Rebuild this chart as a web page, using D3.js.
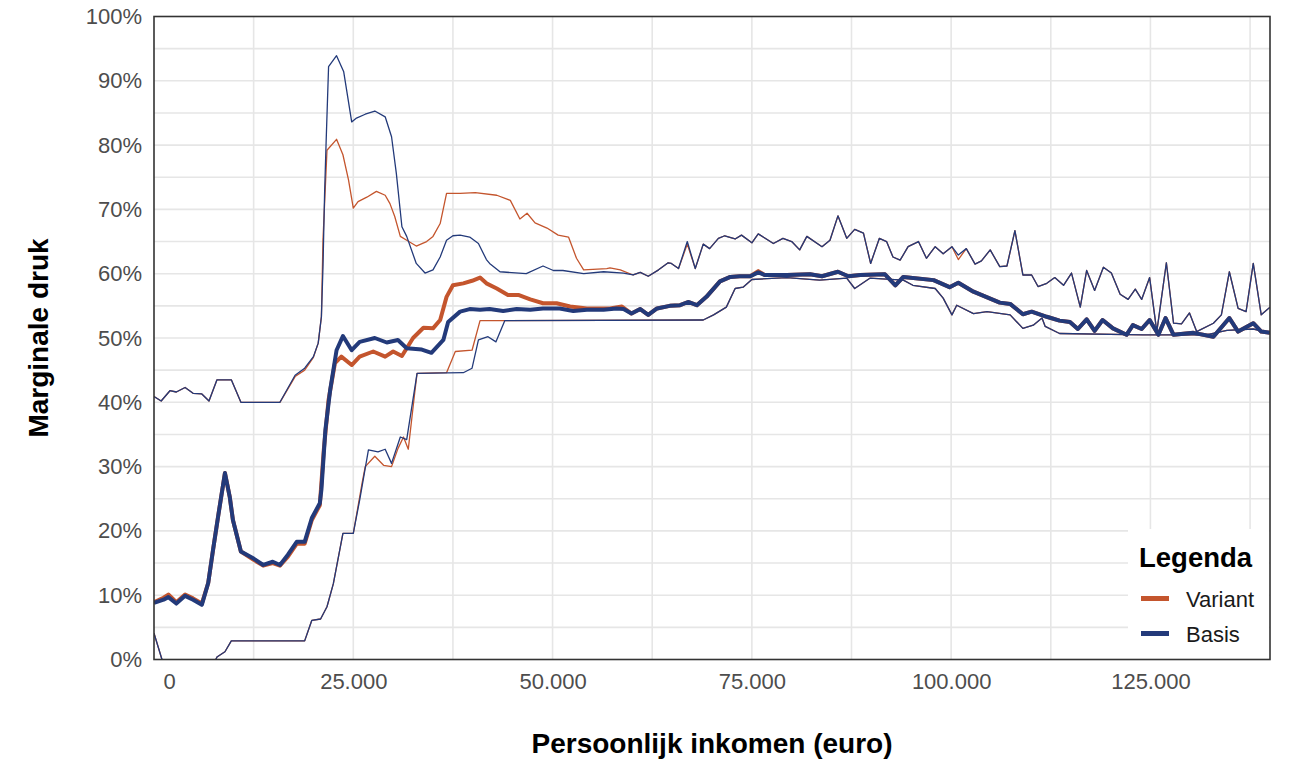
<!DOCTYPE html>
<html>
<head>
<meta charset="utf-8">
<script src="https://cdn.jsdelivr.net/npm/d3@7"></script>
<style>
  html, body { margin: 0; padding: 0; background: #ffffff; }
  svg { display: block; font-family: "Liberation Sans", Arial, sans-serif; }
</style>
</head>
<body>
<svg id="chart" width="1299" height="784"></svg>
<script>
// ---------- DATA (x in thousands of euro, y in %) ----------
const seriesNames = ["Variant", "Basis"];
const seriesColors = ["#C4552D", "#233A7A"];

const xTickValues = [1.9, 25, 50, 75, 100, 125];
const xTickLabels = ["0", "25.000", "50.000", "75.000", "100.000", "125.000"];
const yTickValues = [0, 10, 20, 30, 40, 50, 60, 70, 80, 90, 100];

// Basis, upper thin line
const basisUpper = [[0,40.9],[0.9,40.2],[2,41.8],[2.8,41.6],[3.9,42.3],[4.9,41.4],[6,41.3],[6.9,40.2],[7.9,43.5],[9.7,43.5],[10.9,40],[15.8,40],[17.7,44.2],[18.9,45.3],[20,47.1],[20.6,49.2],[21,53.3],[21.2,61.1],[21.4,72.5],[21.6,80.8],[21.9,92.2],[22.9,93.9],[23.8,91.4],[24.8,83.6],[25.4,84.2],[26.5,84.8],[27.7,85.3],[29,84.4],[29.8,81.3],[30.4,75.6],[31.1,67.3],[31.7,65.8],[32.9,61.6],[34,60.1],[35,60.6],[35.9,62.6],[36.7,65.2],[37.5,65.9],[38.4,66],[39.6,65.7],[40.7,64.7],[41.7,62.2],[42.1,61.6],[43.4,60.3],[46.7,60],[48.8,61.2],[50.1,60.5],[51.3,60.5],[53.9,60],[56.4,60.3],[58.9,60.1],[60.1,59.8],[61,60.2],[62,59.6],[63.3,60.6],[64.5,61.7],[64.9,61.6],[65.8,60.8],[66.9,65],[67.9,60.8],[68.9,64.6],[69.7,63.9],[70.8,65.5],[71.6,65.9],[72.9,65.4],[73.7,66],[75,64.8],[75.8,66.2],[77.7,64.7],[78.9,65.5],[80,65],[81,63.7],[81.9,65.8],[83.8,64.2],[84.8,65.2],[85.8,69],[86.9,65.5],[87.9,66.9],[89,66.3],[89.9,61.6],[91,65.5],[91.9,65],[92.7,62.6],[93.6,62.1],[94.6,64.2],[95.9,65],[96.9,62.4],[98,64.2],[99,63.1],[100.1,64.2],[100.9,62.9],[101.9,63.9],[103,61.5],[103.8,62],[104.9,63.7],[106.1,61.1],[107,61.2],[108,66.7],[109,59.8],[110.1,59.8],[110.9,58],[112,58.5],[113,59.4],[114.1,58.2],[115.1,60.1],[116.2,54.8],[117,60.5],[118,57.4],[119.1,61],[120.1,60.1],[121.2,56.8],[122.2,56],[123.1,57.6],[123.9,56],[124.9,59.4],[125.8,51],[127,61.7],[127.9,52.3],[128.9,52.2],[129.9,53.9],[130.8,51],[132.9,52.3],[133.9,53.6],[134.9,60.3],[136,54.6],[137,54.1],[137.9,61.6],[138.9,53.6],[140,54.8]];

// Variant, upper thin line
const variantUpper = [[0,40.9],[0.9,40.2],[2,41.8],[2.8,41.6],[3.9,42.3],[4.9,41.4],[6,41.3],[6.9,40.2],[7.9,43.5],[9.7,43.5],[10.9,40],[15.8,40],[17.7,44.0],[18.9,45.0],[20,47.0],[20.6,49.2],[21,53.3],[21.2,65.3],[21.7,79.2],[22.9,80.9],[23.7,78.5],[24.4,74.6],[25,70.2],[25.6,71.2],[26.7,71.9],[27.9,72.8],[29,72.2],[29.6,70.9],[30.2,68.9],[30.9,65.8],[31.7,65.2],[32.9,64.3],[34.2,65],[35,65.8],[35.9,67.8],[36.7,72.5],[38.4,72.5],[40.3,72.6],[43,72.2],[44.7,71.4],[45.9,68.5],[46.8,69.4],[47.8,67.9],[49.3,67.1],[50.7,66],[52,65.7],[53,62.4],[53.9,60.6],[56.8,60.8],[57.2,60.9],[58.5,60.6],[60.1,59.8],[61,60.2],[62,59.6],[63.3,60.6],[64.5,61.7],[64.9,61.6],[65.8,60.8],[66.9,64.6],[67.9,60.8],[68.9,64.6],[69.7,63.9],[70.8,65.5],[71.6,65.9],[72.9,65.4],[73.7,66],[75,64.8],[75.8,66.2],[77.7,64.7],[78.9,65.5],[80,65],[81,63.7],[81.9,65.8],[83.8,64.2],[84.8,65.2],[85.8,69],[86.9,65.5],[87.9,66.9],[89,66.3],[89.9,61.6],[91,65.5],[91.9,65],[92.7,62.6],[93.6,62.1],[94.6,64.2],[95.9,65],[96.9,62.4],[98,64.2],[99,63.1],[100.1,64.2],[100.9,62.2],[101.9,63.9],[103,61.5],[103.8,62],[104.9,63.7],[106.1,61.1],[107,61.2],[108,66.7],[109,59.8],[110.1,59.8],[110.9,58],[112,58.5],[113,59.4],[114.1,58.2],[115.1,60.1],[116.2,54.8],[117,60.5],[118,57.4],[119.1,61],[120.1,60.1],[121.2,56.8],[122.2,56],[123.1,57.6],[123.9,56],[124.9,59.4],[125.8,51],[127,61.7],[127.9,52.3],[128.9,52.2],[129.9,53.9],[130.8,51],[132.9,52.3],[133.9,53.6],[134.9,60.3],[136,54.6],[137,54.1],[137.9,61.6],[138.9,53.6],[140,54.8]];

// Basis, thick middle line
const basisMiddle = [[0,8.8],[1.2,9.3],[1.8,9.7],[2.8,8.7],[3.9,9.9],[4.9,9.3],[6,8.5],[6.8,11.9],[7.4,17],[8.1,22.7],[8.9,29],[9.5,25.3],[9.9,21.7],[10.9,16.8],[12.5,15.7],[13.7,14.7],[14.9,15.2],[15.8,14.7],[16.8,16.3],[17.9,18.3],[18.9,18.3],[19.8,22],[20.8,24.3],[21,26.4],[21.5,35.7],[22.1,41.9],[22.9,48.1],[23.7,50.3],[24.8,48.1],[25.8,49.4],[27.7,50],[29.2,49.3],[30.6,49.7],[31.7,48.4],[33.6,48.2],[34.8,47.7],[36.3,49.7],[36.9,52.5],[38.4,54.1],[39.6,54.5],[40.9,54.4],[42.1,54.5],[43.8,54.2],[45.5,54.5],[47.2,54.4],[48.8,54.6],[50.9,54.6],[52.6,54.2],[54.3,54.4],[56.4,54.4],[58,54.6],[58.9,54.5],[59.9,53.8],[61,54.5],[62,53.6],[63.1,54.6],[64.7,55],[66,55.1],[67,55.6],[68.1,55.1],[69.3,56.4],[71,58.8],[72.3,59.5],[73.5,59.6],[74.8,59.6],[75.8,60.2],[76.6,59.8],[79.4,59.8],[82.3,59.9],[83.8,59.6],[85.8,60.3],[87.1,59.6],[88.6,59.8],[91.7,59.9],[93,58.2],[94,59.5],[97.8,59],[99.8,57.9],[100.9,58.6],[102.8,57.2],[106.1,55.5],[107.4,55.3],[109,53.7],[110.1,54.1],[112,53.3],[113.6,52.7],[114.9,52.5],[115.9,51.4],[117,52.9],[118,51.1],[119,52.8],[120.3,51.5],[122,50.5],[122.8,52],[123.9,51.4],[124.9,52.8],[126,50.5],[126.9,53.1],[127.9,50.5],[130.4,50.8],[132.9,50.2],[134.9,53.1],[136,51],[137.9,52.3],[138.9,51],[140,50.8]];

// Variant, thick middle line
const variantMiddle = [[0,8.9],[1.2,9.6],[1.8,10.1],[2.8,8.9],[3.9,10.1],[4.9,9.5],[6,8.7],[6.8,11.9],[7.4,17],[8.1,22.7],[8.9,29],[9.5,25.3],[9.9,21.7],[10.9,16.8],[12.5,15.5],[13.7,14.6],[14.9,15.0],[15.8,14.6],[16.8,16.0],[17.9,18.0],[18.9,18.0],[19.8,21.7],[20.8,24.0],[21.3,32.6],[21.9,40.4],[22.7,46.1],[23.5,47.1],[24.8,45.8],[25.8,47.1],[27.5,47.9],[29,47.1],[30,47.9],[31.1,47.2],[32.5,50],[33.8,51.6],[35,51.5],[35.9,52.8],[36.7,56.4],[37.5,58.2],[38.8,58.5],[39.9,58.9],[40.9,59.4],[41.7,58.5],[43,57.7],[44.4,56.7],[45.7,56.7],[47.2,56],[48.8,55.4],[50.5,55.4],[52.2,54.9],[54.3,54.6],[57.2,54.6],[58.7,54.9],[59.9,53.8],[61,54.5],[62,53.6],[63.1,54.6],[64.7,55],[66,55.1],[67,55.6],[68.1,55.1],[69.3,56.4],[71,58.8],[72.3,59.5],[73.5,59.6],[74.8,59.6],[75.8,60.4],[76.6,59.8],[79.4,59.8],[82.3,59.9],[83.8,59.6],[85.8,60.3],[87.1,59.6],[88.6,59.8],[91.7,59.9],[93,58.2],[94,59.5],[97.8,59],[99.8,57.9],[100.9,58.6],[102.8,57.2],[106.1,55.5],[107.4,55.3],[109,53.7],[110.1,54.1],[112,53.3],[113.6,52.7],[114.9,52.5],[115.9,51.4],[117,52.9],[118,51.1],[119,52.8],[120.3,51.5],[122,50.5],[122.8,52],[123.9,51.4],[124.9,52.8],[126,50.5],[126.9,53.1],[127.9,50.5],[130.4,50.8],[132.9,50.2],[134.9,53.1],[136,51],[137.9,52.3],[138.9,51],[140,50.8]];

// Basis, lower thin line
const basisLower = [[0,4.1],[1,0],[1.5,-2],[7,-2],[7.9,0.4],[8.9,1.2],[9.7,2.9],[18.9,2.9],[19.8,6.1],[20.9,6.3],[21.7,8.2],[22.5,11.8],[23.7,19.6],[25,19.6],[25.8,24.8],[26.9,32.6],[28.1,32.3],[29,32.7],[29.8,30.5],[30.9,34.6],[31.7,34.2],[33,44.5],[38.8,44.6],[39.9,45.3],[40.7,49.7],[41.9,50.2],[42.9,49.4],[44,52.7],[68.9,52.8],[70.2,53.6],[71.8,54.8],[72.9,57.7],[73.9,57.9],[75,59.1],[79.4,59.4],[83.5,59],[86.9,59.3],[87.9,57.7],[89.8,59.3],[94,59],[95.2,58.2],[98,57.7],[99,56.2],[100.1,53.6],[100.7,55.1],[102.8,53.8],[104.5,54.1],[107.4,53.6],[109,51.5],[110.3,52],[111.4,53.1],[111.8,51.8],[113.6,50.7],[124.1,50.5],[132,50.5],[134.6,51.2],[137.9,51.4],[140,50.8]];

// Variant, lower thin line
const variantLower = [[0,4.1],[1,0],[1.5,-2],[7,-2],[7.9,0.4],[8.9,1.2],[9.7,2.9],[18.9,2.9],[19.8,6.1],[20.9,6.3],[21.7,8.2],[22.5,11.8],[23.7,19.6],[25,19.6],[26.1,27.4],[26.5,30],[27.7,31.6],[28.8,30.2],[29.8,30],[30.6,32.8],[31.3,34.6],[31.9,32.7],[32.7,41.4],[33,44.5],[36.7,44.6],[37.8,47.9],[39.9,48.1],[40.9,52.7],[68.9,52.8],[70.2,53.6],[71.8,54.8],[72.9,57.7],[73.9,57.9],[75,59.1],[79.4,59.4],[83.5,59],[86.9,59.3],[87.9,57.7],[89.8,59.3],[94,59],[95.2,58.2],[98,57.7],[99,56.2],[100.1,53.6],[100.7,55.1],[102.8,53.8],[104.5,54.1],[107.4,53.6],[109,51.5],[110.3,52],[111.4,53.1],[111.8,51.8],[113.6,50.7],[124.1,50.5],[132,50.5],[134.6,51.2],[137.9,51.4],[140,50.8]];

// ---------- LAYOUT ----------
const svg = d3.select("#chart");
const plot = { left: 154, right: 1270, top: 16.5, bottom: 659.5 };

const x = d3.scaleLinear().domain([0, 140]).range([plot.left, plot.right]);
const y = d3.scaleLinear().domain([0, 100]).range([plot.bottom, plot.top]);

// grid
const grid = svg.append("g");
grid.selectAll("line.hg").data(d3.range(5, 100, 5)).enter().append("line")
  .attr("x1", plot.left).attr("x2", plot.right)
  .attr("y1", d => y(d)).attr("y2", d => y(d))
  .attr("stroke", "#e6e6e6").attr("stroke-width", 1.6);
grid.selectAll("line.vg").data(d3.range(12.5, 140, 12.5)).enter().append("line")
  .attr("y1", plot.top).attr("y2", plot.bottom)
  .attr("x1", d => x(d)).attr("x2", d => x(d))
  .attr("stroke", "#e6e6e6").attr("stroke-width", 1.6);

// clip
svg.append("clipPath").attr("id", "clip").append("rect")
  .attr("x", plot.left).attr("y", plot.top)
  .attr("width", plot.right - plot.left).attr("height", plot.bottom - plot.top);

const line = d3.line().x(d => x(d[0])).y(d => y(d[1]));
const lines = svg.append("g").attr("clip-path", "url(#clip)");

const layers = [
  { data: variantUpper, color: seriesColors[0], w: 1.3 },
  { data: variantLower, color: seriesColors[0], w: 1.3 },
  { data: variantMiddle, color: seriesColors[0], w: 4 },
  { data: basisUpper, color: seriesColors[1], w: 1.3 },
  { data: basisLower, color: seriesColors[1], w: 1.3 },
  { data: basisMiddle, color: seriesColors[1], w: 4 }
];
layers.forEach(l => {
  lines.append("path").datum(l.data)
    .attr("d", line)
    .attr("fill", "none")
    .attr("stroke", l.color)
    .attr("stroke-width", l.w)
    .attr("stroke-linejoin", "round");
});

// legend (inside plot, bottom right)
const lg = svg.append("g");
lg.append("rect").attr("x", 1128).attr("y", 529).attr("width", 141).attr("height", 130)
  .attr("fill", "#ffffff");
lg.append("text").attr("x", 1139).attr("y", 567).text("Legenda")
  .attr("font-size", 27.5).attr("font-weight", "bold").attr("fill", "#000");
seriesNames.forEach((name, i) => {
  const cy = 598.5 + i * 35;
  lg.append("line").attr("x1", 1141).attr("x2", 1169).attr("y1", cy).attr("y2", cy)
    .attr("stroke", seriesColors[i]).attr("stroke-width", 5);
  lg.append("text").attr("x", 1186).attr("y", cy + 8).text(name)
    .attr("font-size", 22).attr("fill", "#1a1a1a");
});

// border
svg.append("rect").attr("x", plot.left).attr("y", plot.top)
  .attr("width", plot.right - plot.left).attr("height", plot.bottom - plot.top)
  .attr("fill", "none").attr("stroke", "#333333").attr("stroke-width", 1.6);

// axes
const yAxis = d3.axisLeft(y).tickValues(yTickValues).tickFormat(d => d + "%")
  .tickSize(0).tickPadding(12);
const gy = svg.append("g").attr("transform", `translate(${plot.left},0)`).call(yAxis);
gy.select(".domain").remove();
gy.selectAll("text").attr("font-size", 22).attr("fill", "#4d4d4d")
  .attr("font-family", "Liberation Sans, Arial, sans-serif");

const xAxis = d3.axisBottom(x).tickValues(xTickValues)
  .tickFormat((d, i) => xTickLabels[i]).tickSize(0).tickPadding(14);
const gx = svg.append("g").attr("transform", `translate(0,${plot.bottom})`).call(xAxis);
gx.select(".domain").remove();
gx.selectAll("text").attr("font-size", 22).attr("fill", "#4d4d4d")
  .attr("font-family", "Liberation Sans, Arial, sans-serif");

// axis titles
svg.append("text").attr("x", (plot.left + plot.right) / 2).attr("y", 753)
  .attr("text-anchor", "middle").attr("font-size", 28).attr("font-weight", "bold")
  .attr("fill", "#000").text("Persoonlijk inkomen (euro)");
svg.append("text")
  .attr("transform", `translate(48,${(plot.top + plot.bottom) / 2}) rotate(-90)`)
  .attr("text-anchor", "middle").attr("font-size", 28).attr("font-weight", "bold")
  .attr("fill", "#000").text("Marginale druk");
</script>
</body>
</html>
